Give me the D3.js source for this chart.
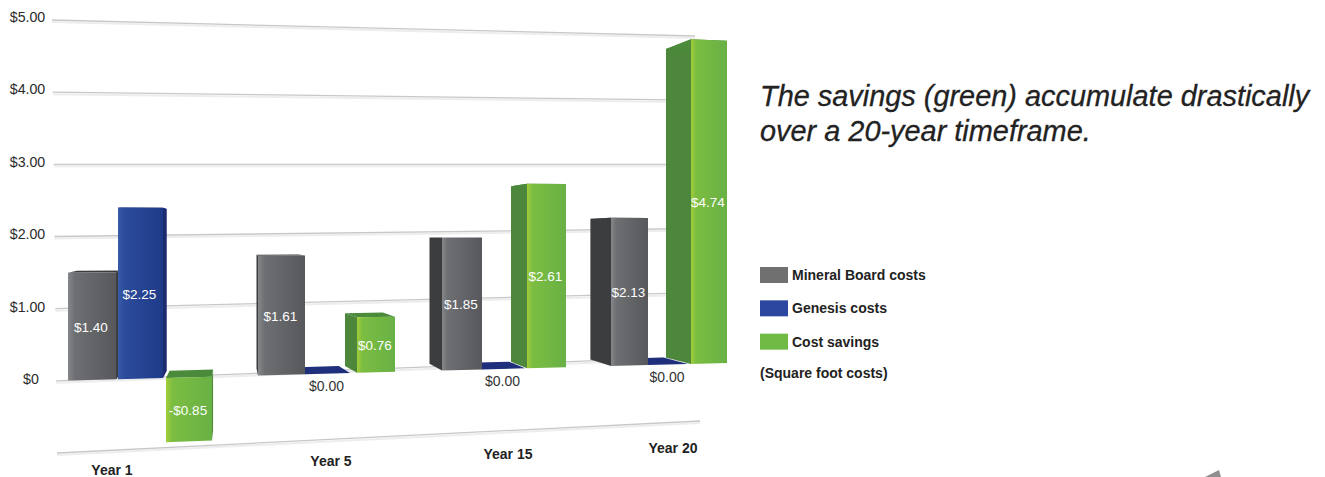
<!DOCTYPE html>
<html lang="en">
<head>
  <meta charset="UTF-8">
  <title>Cost savings chart</title>
  <style>
    body { margin: 0; background: #fff; font-family: "Liberation Sans", Arial, sans-serif; }
    svg { display: block; }
    .grid { stroke: #c8c8c8; stroke-width: 1.3px; }
    .grid-shadow { stroke: #ededed; stroke-width: 2px; }
    .axis text { font-size: 14.2px; fill: #2b2b2b; font-family: "Liberation Sans", Arial, sans-serif; }
    .axis path, .axis line { display: none; }
    .year { font-size: 14px; font-weight: bold; fill: #222; text-anchor: middle; }
    .value { font-size: 13.5px; fill: #fff; text-anchor: middle; }
    .value.zero { font-size: 14px; fill: #333; }
    .title { font-size: 28.9px; font-style: italic; fill: #222; stroke: #222; stroke-width: 0.3px; }
    .legend { font-size: 14px; font-weight: bold; fill: #222; }
  </style>
</head>
<body>
  <svg width="1325" height="477"></svg>

  <script src="https://d3js.org/d3.v7.min.js"></script>
  <script>
    const years = ["Year 1", "Year 5", "Year 15", "Year 20"];
    const seriesNames = ["Mineral Board costs", "Genesis costs", "Cost savings"];
    const mineralBoard = [1.40, 1.61, 1.85, 2.13];
    const genesis = [2.25, 0, 0, 0];
    const savings = [-0.85, 0.76, 2.61, 4.74];
    const yTicks = [0, 1, 2, 3, 4, 5];
    const gridValues = [-1, 0, 1, 2, 3, 4, 5];
    const titleLines = ["The savings (green) accumulate drastically", "over a 20-year timeframe."];
    const legendNote = "(Square foot costs)";

    const seriesValues = [mineralBoard, genesis, savings];
    const colors = {
      front: [["#85888b", "#6e6f72", "#57585b"], ["#3a5ba6", "#2c4c9c", "#1e3a87"], ["#a3cd39", "#7cbd42", "#68b145"]],
      side: ["#3b3d3e", "#1c2b70", "#4c873c"],
      top: ["#3a3c3d", "#1f2f7c", "#4a8a3a"],
      legend: ["#707070", "#2b479f", "#6fba44"]
    };

    const svg = d3.select("svg");
    const defs = svg.append("defs");

    colors.front.forEach((c, i) => {
      const g = defs.append("linearGradient").attr("id", "front" + i);
      g.append("stop").attr("offset", "0%").attr("stop-color", c[0]);
      g.append("stop").attr("offset", "14%").attr("stop-color", c[1]);
      g.append("stop").attr("offset", "100%").attr("stop-color", c[2]);
    });

    // slot = group * 3 + series, the picture is in perspective so slots are not even
    const slots = d3.range(12);
    const leftEdge = d3.scaleLinear().domain(slots)
      .range([68, 118, 166, 258, 305, 357, 442, 482, 527, 611, 648, 691]);
    const rightEdge = d3.scaleLinear().domain(slots)
      .range([116, 163, 212, 305, 350, 395, 482, 525, 566, 648, 688, 727]);

    // the floor tilts up and the dollar gets shorter as we go right
    const baseY = d3.scaleLinear().domain([68, 727]).range([380.5, 363]);
    const unit = d3.scaleLinear().domain([68, 727]).range([77, 68]);

    // depth of the box, towards a vanishing point
    const depthX = d3.scaleLinear().domain([68, 258, 357, 442, 527, 691]).range([9, -1.5, -12, -12.5, -16, -25]);
    const vanishY = 235;
    const depthY = y => (vanishY - y) * 0.05;

    // gridlines have their own plane
    const gridLeftX = d3.scaleLinear().domain([-1, 5]).range([57, 52]);
    const gridRightX = d3.scaleLinear().domain([-1, 5]).range([700, 695]);
    const gridLeftY = d3.scaleLinear().domain([-1, 5]).range([453, 20]);
    const gridRightY = d3.scaleLinear().domain([-1, 5]).range([421, 36]);

    const gridG = svg.append("g");
    [["grid-shadow", 2], ["grid", 0]].forEach(([cls, off]) => {
      gridG.selectAll("line." + cls)
        .data(gridValues)
        .join("line")
        .attr("class", cls)
        .attr("x1", d => gridLeftX(d))
        .attr("y1", d => gridLeftY(d) + off)
        .attr("x2", d => gridRightX(d))
        .attr("y2", d => gridRightY(d) + off);
    });

    // y axis labels
    const yLabelScale = d3.scaleLinear().domain([0, 5]).range([379, 17]);
    const yAxis = d3.axisLeft(yLabelScale)
      .tickValues(yTicks)
      .tickSize(0)
      .tickFormat(d => d === 0 ? "$0" : "$" + d.toFixed(2));
    svg.append("g")
      .attr("class", "axis")
      .attr("transform", "translate(27.5,0)")
      .call(yAxis)
      .selectAll("text")
      .attr("x", d => d === 0 ? 3.5 : 0)
      .attr("text-anchor", "middle");

    // flatten to one record per bar
    const bars = [];
    years.forEach((year, g) => {
      seriesNames.forEach((name, s) => {
        const slot = g * 3 + s;
        const value = seriesValues[s][g];
        const xl = leftEdge(slot), xr = rightEdge(slot);
        const y = x => baseY(x) - Math.max(value, 0) * unit(x);
        const b = x => baseY(x) - Math.min(value, 0) * unit(x);
        bars.push({ year, name, s, value, xl, xr, y, b });
      });
    });

    const pts = p => p.map(q => q.join(",")).join(" ");

    // zero bars lie flat on the floor so they go under the others
    const drawOrder = d3.sort(bars, d => d.value === 0 ? 0 : 1);

    const barG = svg.append("g").selectAll("g")
      .data(drawOrder)
      .join("g");

    // side face
    barG.append("polygon")
      .attr("fill", d => colors.side[d.s])
      .attr("points", d => {
        const x = depthX(d.xl) < 0 ? d.xl : d.xr;
        const dx = depthX(x);
        return pts([
          [x, d.y(x)],
          [x + dx, d.y(x) + depthY(d.y(x))],
          [x + dx, d.b(x) + depthY(d.b(x))],
          [x, d.b(x)]
        ]);
      });

    // top face
    barG.append("polygon")
      .attr("fill", d => colors.top[d.s])
      .attr("points", d => pts([
        [d.xl, d.y(d.xl)],
        [d.xr, d.y(d.xr)],
        [d.xr + depthX(d.xr), d.y(d.xr) + depthY(d.y(d.xr))],
        [d.xl + depthX(d.xl), d.y(d.xl) + depthY(d.y(d.xl))]
      ]));

    // front face
    barG.append("polygon")
      .attr("fill", d => `url(#front${d.s})`)
      .attr("points", d => pts([
        [d.xl, d.y(d.xl)],
        [d.xr, d.y(d.xr)],
        [d.xr, d.b(d.xr)],
        [d.xl, d.b(d.xl)]
      ]));

    // value labels, zero bars get theirs under the floor
    svg.append("g").selectAll("text")
      .data(bars)
      .join("text")
      .attr("class", d => d.value === 0 ? "value zero" : "value")
      .attr("x", d => (d.xl + d.xr) / 2 - 1)
      .attr("y", d => {
        const xm = (d.xl + d.xr) / 2;
        return d.value === 0 ? d.b(xm) + 17 : (d.y(xm) + d.b(xm)) / 2 + 5.5;
      })
      .text(d => (d.value < 0 ? "-$" : "$") + Math.abs(d.value).toFixed(2));

    // year labels
    const yearX = d3.scalePoint().domain(years).range([0, 1]);
    const yearCenter = d3.scaleLinear().domain(yearX.domain().map(yearX)).range([112, 331, 508, 673]);
    const yearBaseline = d3.scaleLinear().domain([112, 673]).range([475, 453]);
    svg.append("g").selectAll("text")
      .data(years)
      .join("text")
      .attr("class", "year")
      .attr("x", d => yearCenter(yearX(d)))
      .attr("y", d => yearBaseline(yearCenter(yearX(d))))
      .text(d => d);

    // title
    svg.append("g").selectAll("text")
      .data(titleLines)
      .join("text")
      .attr("class", "title")
      .attr("x", 760)
      .attr("y", (d, i) => 106 + i * 35)
      .text(d => d);

    // legend
    const legendY = d3.scaleBand().domain(seriesNames).range([267, 367]);
    const legend = svg.append("g").selectAll("g")
      .data(seriesNames)
      .join("g");
    legend.append("rect")
      .attr("x", 760)
      .attr("y", d => legendY(d))
      .attr("width", 28)
      .attr("height", 16)
      .attr("fill", (d, i) => colors.legend[i]);
    legend.append("text")
      .attr("class", "legend")
      .attr("x", 792)
      .attr("y", d => legendY(d) + 13)
      .text(d => d);
    svg.append("text")
      .attr("class", "legend")
      .attr("x", 760)
      .attr("y", 378)
      .text(legendNote);

    // stray mark in the bottom right of the scan
    svg.append("path")
      .attr("d", "M1205,477L1219,470L1221,477Z")
      .attr("fill", "#8f8f8f");
  </script>
</body>
</html>
